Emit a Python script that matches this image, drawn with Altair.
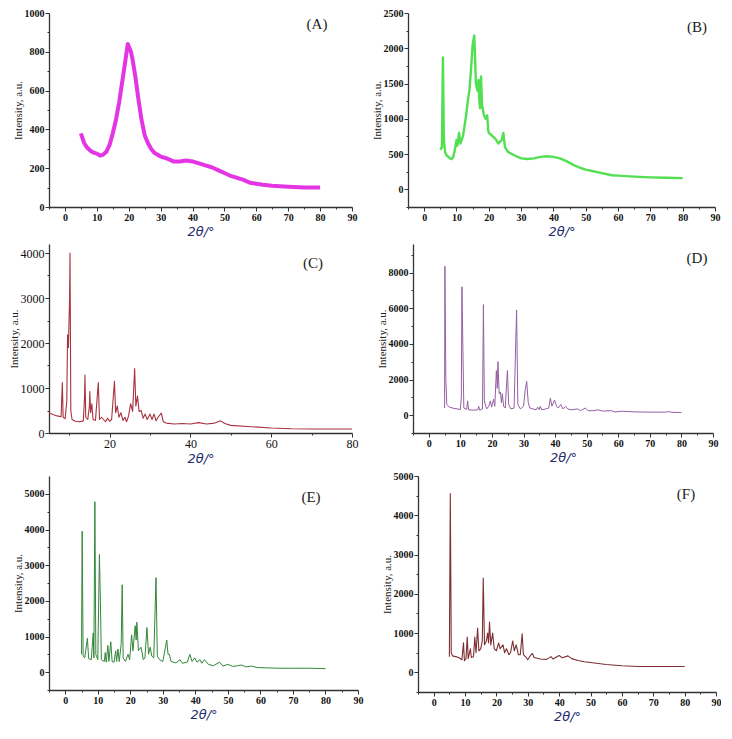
import altair as alt
import pandas as pd

# ---------------- data ----------------
a_x = [5, 6, 7, 8, 9, 10, 11, 12, 13, 14, 15, 16, 17, 18, 19, 19.7, 20.2, 20.7, 21.2, 22, 23, 24, 25, 26, 27, 28, 30, 32, 34, 36, 38, 40, 42, 44, 46, 48, 50, 52, 54, 56, 58, 60, 62, 65, 70, 75, 80]
a_y = [380, 330, 305, 290, 280, 275, 265, 270, 285, 320, 380, 450, 540, 650, 760, 840, 820, 800, 760, 680, 560, 450, 370, 330, 300, 280, 260, 250, 235, 235, 240, 235, 225, 215, 205, 190, 175, 160, 150, 140, 125, 120, 115, 110, 105, 100, 100]

b_x = [5, 5.5, 5.8, 6.1, 6.5, 7, 8, 8.5, 9, 9.5, 10, 10.3, 10.8, 11.2, 12, 12.5, 13, 13.5, 14, 14.5, 15, 15.5, 15.8, 16, 16.5, 16.8, 17, 17.3, 17.6, 17.9, 18.5, 19, 19.5, 19.8, 20, 21, 22, 23, 24, 24.5, 25, 26, 28, 30, 32, 34, 36, 38, 40, 42, 44, 46, 48, 50, 52, 55, 58, 60, 65, 70, 75, 80]
b_y = [560, 600, 1870, 700, 520, 480, 440, 430, 460, 560, 700, 620, 800, 650, 750, 900, 1050, 1250, 1400, 1700, 2050, 2180, 1800, 1500, 1400, 1550, 1300, 1150, 1600, 1200, 1050, 1000, 1050, 850, 800, 760, 720, 650, 700, 800, 600, 530, 480, 440, 430, 440, 460, 470, 460, 440, 400, 350, 310, 280, 260, 230, 200, 195, 180, 170, 165, 160]

c_x = [5, 6, 7, 8, 8.1, 8.3, 8.5, 9, 9.4, 9.6, 9.8, 10.1, 10.2, 10.4, 10.7, 11.5, 12.5, 13.5, 13.8, 13.9, 14.1, 14.6, 15.0, 15.1, 15.3, 15.6, 15.9, 16.5, 17.2, 17.5, 18, 18.5, 19, 19.5, 20, 20.5, 21.2, 21.5, 21.9, 22.3, 22.8, 23.3, 23.8, 24.2, 24.7, 25.2, 25.7, 26.2, 26.5, 26.9, 27.3, 27.8, 28.3, 28.8, 29.3, 30, 30.5, 31, 31.5, 32, 32.8, 33.3, 34, 36, 38, 40, 42, 44, 46, 47.5, 48.5, 50, 55, 60, 65, 70, 75, 80]
c_y = [450, 410, 380, 360, 620, 1120, 350, 320, 700, 2180, 1900, 3000, 4000, 500, 300, 260, 250, 270, 800, 1290, 350, 300, 600, 920, 450, 650, 300, 280, 1120, 300, 350, 300, 250, 330, 260, 300, 1150, 450, 600, 350, 450, 280, 350, 250, 380, 650, 480, 1430, 600, 820, 480, 500, 330, 420, 300, 420, 300, 420, 270, 350, 440, 250, 220, 200, 210, 200, 230, 200, 220, 270, 210, 170, 140, 110, 95, 90, 90, 90]

d_x = [5.0, 5.1, 5.4, 5.7, 6.5, 8, 10, 10.3, 10.5, 10.8, 11.1, 12, 12.3, 12.6, 14, 15.5, 15.8, 16.1, 17, 17.3, 17.6, 18.3, 19, 19.5, 19.9, 20.5, 20.9, 21.4, 21.7, 21.9, 22.3, 22.7, 23.0, 23.3, 23.7, 24.2, 24.9, 25.3, 26, 27, 27.8, 28.2, 29, 30, 30.6, 31.0, 31.5, 32, 33, 34, 34.5, 35, 35.3, 35.8, 37, 38, 38.5, 39, 39.8, 40.5, 41, 41.8, 42.5, 43.3, 44, 45, 47.2, 48, 49.6, 50.5, 52, 53.6, 55, 57.8, 59, 61, 63.4, 66, 70, 75, 76, 77, 80]
d_y = [400, 8350, 2000, 600, 450, 380, 320, 1000, 7200, 3700, 400, 320, 800, 300, 280, 300, 500, 280, 350, 6200, 800, 350, 500, 800, 450, 900, 500, 2500, 1500, 3000, 1200, 1300, 700, 1200, 500, 400, 2500, 600, 350, 400, 5900, 600, 350, 500, 1500, 1900, 700, 400, 350, 300, 450, 300, 500, 300, 350, 400, 950, 500, 850, 500, 400, 600, 350, 500, 350, 300, 350, 250, 400, 250, 250, 300, 230, 250, 180, 220, 200, 180, 170, 170, 200, 160, 150]

e_x = [5.0, 5.2, 5.5, 6, 6.8, 7.2, 8, 8.6, 8.8, 9.1, 9.4, 10, 10.5, 10.8, 11.1, 12, 12.3, 12.6, 13.1, 13.4, 14.0, 14.4, 15, 15.5, 15.8, 16.2, 16.6, 17.2, 17.5, 17.8, 18.5, 19.3, 19.8, 20.4, 20.8, 21.5, 21.8, 22.0, 22.5, 23.3, 24, 24.5, 25.1, 25.6, 26.1, 26.6, 27.2, 27.9, 28.3, 29, 30, 30.6, 31.2, 31.6, 32, 32.5, 34, 35.3, 36, 37.5, 38.3, 39, 39.8, 40.5, 41.4, 42, 42.8, 44, 45.5, 47.4, 48.5, 50, 51.5, 53, 54.2, 55.5, 57.3, 59, 62, 66, 70, 75, 80]
e_y = [500, 3950, 450, 400, 950, 380, 350, 1100, 400, 4780, 500, 350, 3300, 2000, 350, 300, 550, 280, 750, 300, 850, 300, 280, 600, 300, 650, 300, 800, 2450, 400, 300, 500, 350, 1050, 600, 1300, 900, 1400, 600, 700, 350, 400, 1250, 500, 700, 450, 400, 2650, 450, 350, 300, 600, 900, 500, 500, 300, 260, 350, 250, 280, 500, 300, 400, 280, 350, 250, 350, 220, 180, 280, 170, 220, 160, 180, 200, 150, 170, 130, 120, 110, 110, 110, 100]

f_x = [5.0, 5.3, 5.6, 6, 7, 8, 9, 9.5, 9.8, 10.3, 10.7, 11.0, 11.7, 12, 12.7, 13.1, 13.5, 14.0, 14.4, 15, 15.5, 15.8, 16.2, 16.8, 17.2, 17.5, 17.8, 18.2, 18.8, 19.3, 20, 20.7, 21.2, 22.1, 22.6, 23.2, 24, 24.5, 25.2, 25.7, 26.3, 27, 27.6, 28.2, 28.6, 29.5, 30, 31, 31.5, 32, 34, 36, 37.4, 38, 40, 41, 42.8, 44, 46, 48, 50, 55, 60, 65, 70, 75, 80]
f_y = [400, 4550, 500, 420, 400, 380, 320, 750, 300, 350, 900, 350, 600, 380, 400, 900, 500, 1130, 550, 600, 800, 2400, 700, 800, 1000, 750, 1280, 700, 1000, 600, 550, 750, 600, 700, 500, 600, 450, 500, 800, 550, 700, 450, 450, 980, 450, 380, 320, 450, 480, 380, 340, 330, 400, 340, 430, 370, 420, 350, 300, 270, 250, 200, 170, 150, 150, 150, 150]

x_major = [0, 10, 20, 30, 40, 50, 60, 70, 80, 90]
x_minor = [-5, 5, 15, 25, 35, 45, 55, 65, 75, 85]
c_x_major = [20, 40, 60, 80]
c_x_minor = [10, 30, 50, 70]

TITLE_X = "2θ/°"
TITLE_Y = "Intensity, a.u."
AXIS_COL = "#333333"


def panel(xs, ys, color, sw, xdom, ydom, xmaj, xmin, ymaj, ymin, w, h,
          label, lx, ly, bold=True, lsize=10, opacity=1.0):
    df = pd.DataFrame({"x": xs, "y": ys})
    weight = "bold" if bold else "normal"
    xs_ = alt.Scale(domain=xdom, nice=False, zero=False)
    ys_ = alt.Scale(domain=ydom, nice=False, zero=False)
    line = alt.Chart(df).mark_line(color=color, strokeWidth=sw, clip=True,
                                   strokeJoin="round", opacity=opacity).encode(
        x=alt.X("x:Q", scale=xs_, axis=alt.Axis(
            values=xmaj, format="d", title=TITLE_X, grid=False, orient="bottom",
            tickSize=4, tickColor=AXIS_COL, domainColor=AXIS_COL, domainWidth=1.3,
            labelFont="Liberation Serif", labelFontWeight=weight, labelFontSize=lsize,
            labelColor="#111", labelPadding=1, labelFlush=False,
            titleFont="DejaVu Sans", titleFontStyle="italic", titleFontWeight="normal",
            titleFontSize=13, titleColor="#1f2d6e", titlePadding=3)),
        y=alt.Y("y:Q", scale=ys_, axis=alt.Axis(
            values=ymaj, format="d", title=TITLE_Y, grid=False, orient="left",
            tickSize=4, tickColor=AXIS_COL, domainColor=AXIS_COL, domainWidth=1.3,
            labelFont="Liberation Serif", labelFontWeight=weight, labelFontSize=lsize,
            labelColor="#111", labelPadding=1, labelFlush=False,
            titleFont="Liberation Serif", titleFontWeight="normal", titleFontSize=11,
            titleColor="#222", titlePadding=1)),
    )
    minor = alt.Chart(df).mark_line(opacity=0).encode(
        x=alt.X("x:Q", scale=xs_, axis=alt.Axis(
            values=xmin, labels=False, title=None, grid=False, domain=False,
            tickSize=2, tickColor=AXIS_COL, orient="bottom")),
        y=alt.Y("y:Q", scale=ys_, axis=alt.Axis(
            values=ymin, labels=False, title=None, grid=False, domain=False,
            tickSize=2, tickColor=AXIS_COL, orient="left")),
    )
    txt = alt.Chart(pd.DataFrame({"t": [label]})).mark_text(
        font="Liberation Serif", fontSize=15, color="#222",
        align="center", baseline="middle").encode(
        text="t:N", x=alt.value(lx), y=alt.value(ly))
    return alt.layer(line, minor, txt).resolve_axis(
        x="independent", y="independent").properties(width=w, height=h)


pA = panel(a_x, a_y, "#e01fe0", 4.0, [-5, 90], [0, 1000], x_major, x_minor,
           [0, 200, 400, 600, 800, 1000], [100, 300, 500, 700, 900],
           303, 194, "(A)", 268, 11, opacity=0.9)
pB = panel(b_x, b_y, "#3fdc3f", 2.4, [-5, 90], [-250, 2500], x_major, x_minor,
           [0, 500, 1000, 1500, 2000, 2500], [-250, 250, 750, 1250, 1750, 2250],
           307, 194, "(B)", 289, 14, opacity=0.9)
pC = panel(c_x, c_y, "#a8333f", 1.1, [5, 80], [0, 4200], c_x_major, c_x_minor,
           [0, 1000, 2000, 3000, 4000], [500, 1500, 2500, 3500],
           303, 189, "(C)", 264, 19, bold=False, lsize=12)
pD = panel(d_x, d_y, "#9460a3", 1.0, [-5, 90], [-1000, 9600], x_major, x_minor,
           [0, 2000, 4000, 6000, 8000], [-1000, 1000, 3000, 5000, 7000, 9000],
           300, 189, "(D)", 284, 14)
pE = panel(e_x, e_y, "#33863a", 1.0, [-5, 90], [-500, 5500], x_major, x_minor,
           [0, 1000, 2000, 3000, 4000, 5000], [-500, 500, 1500, 2500, 3500, 4500],
           309, 214, "(E)", 262, 21)
pF = panel(f_x, f_y, "#7d2f33", 1.1, [-5, 90], [-500, 5000], x_major, x_minor,
           [0, 1000, 2000, 3000, 4000, 5000], [-500, 500, 1500, 2500, 3500, 4500],
           298, 216, "(F)", 268, 18)

row1 = alt.hconcat(pA, pB, spacing=14)
row2 = alt.hconcat(pC, pD, spacing=18)
row3 = alt.hconcat(pE, pF, spacing=18)

chart = alt.vconcat(row1, row2, row3, spacing=6).properties(
    padding=0, background="white"
).configure_view(stroke=None)

chart.save("out.html", embed_options={"renderer": "svg", "actions": False})
